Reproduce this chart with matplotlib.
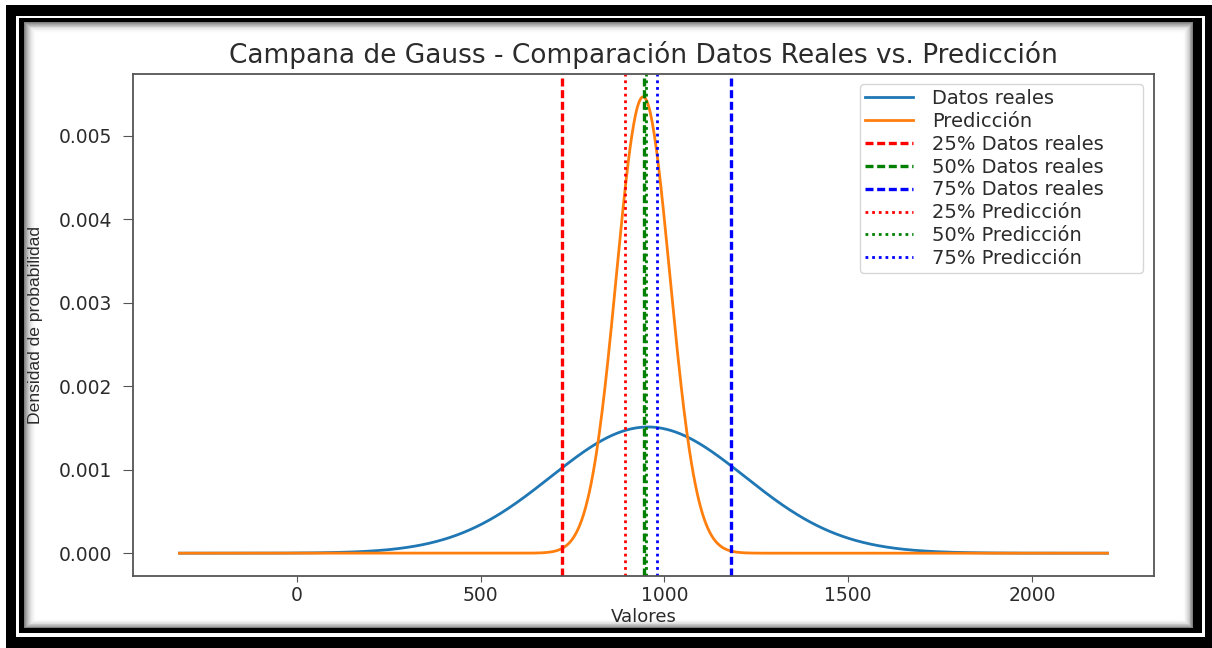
import numpy as np
import matplotlib
matplotlib.use("Agg")
import matplotlib.pyplot as plt
from matplotlib.patches import Rectangle

# Normal curves: real data vs. prediction
x_min, x_max = -320, 2206
real_mean, real_std = 955, 264
pred_mean, pred_std = 942, 73

# Quartiles
real_quartiles = [721, 945, 1181]
pred_quartiles = [892, 950, 981]
quartile_names = ["25%", "50%", "75%"]
quartile_colors = ["red", "green", "blue"]

title = "Campana de Gauss - Comparación Datos Reales vs. Predicción"
x_label = "Valores"
y_label = "Densidad de probabilidad"


def normal_pdf(x, mu, sd):
    return np.exp(-0.5 * ((x - mu) / sd) ** 2) / (sd * np.sqrt(2 * np.pi))


W, H = 1212, 648
fig = plt.figure(figsize=(W / 100, H / 100), dpi=100)
fig.patch.set_facecolor("white")

# Decorative double frame with inner shadow
bg = fig.add_axes([0, 0, 1, 1], zorder=0)
bg.set_xlim(0, W)
bg.set_ylim(H, 0)
bg.axis("off")


def box(x0, y0, x1, y1, color):
    bg.add_patch(Rectangle((x0, y0), x1 - x0, y1 - y0, facecolor=color,
                           edgecolor="none", linewidth=0))


box(6, 5, W, H, "black")
box(16, 16, 1205, 637, "white")
box(19, 18, 1202, 633, "black")
# inner shadow fading to white
n_steps = 13
inner = (24, 22, 1193, 628)
for i in range(n_steps + 1):
    t = i / n_steps
    g = 1.0 - 0.5 * (1 - t) ** 2.2
    box(inner[0] + i, inner[1] + i * 0.9, inner[2] - i * 0.85, inner[3] - i * 0.75,
        (g, g, g))

text_color = "#2b2b2b"
spine_color = "#555555"

ax = fig.add_axes([133 / W, 1 - 576 / H, (1154 - 133) / W, (576 - 74) / H], zorder=1)

x = np.linspace(x_min, x_max, 1000)
ax.plot(x, normal_pdf(x, real_mean, real_std), color="#1f77b4", lw=2.0,
        label="Datos reales")
ax.plot(x, normal_pdf(x, pred_mean, pred_std), color="#ff7f0e", lw=2.0,
        label="Predicción")

for name, val, col in zip(quartile_names, real_quartiles, quartile_colors):
    ax.axvline(val, color=col, lw=2.4, linestyle=(0, (2.4, 1.1)),
               label=f"{name} Datos reales")
for name, val, col in zip(quartile_names, pred_quartiles, quartile_colors):
    ax.axvline(val, color=col, lw=2.0, linestyle=(0, (1, 1.4)),
               label=f"{name} Predicción")

ax.set_title(title, fontsize=19, color=text_color, pad=8)
ax.set_xlabel(x_label, fontsize=13, color=text_color, labelpad=2)
ax.set_ylabel(y_label, fontsize=12.6, color=text_color, family="Liberation Sans")
ax.yaxis.set_label_coords(-0.088, 0.5)

ax.set_xticks([0, 500, 1000, 1500, 2000])
ax.set_yticks([0.000, 0.001, 0.002, 0.003, 0.004, 0.005])
ax.yaxis.set_major_formatter(matplotlib.ticker.FormatStrFormatter("%.3f"))
ax.tick_params(axis="both", labelsize=13.5, colors=text_color)
ax.tick_params(axis="y", length=7, pad=8, color=spine_color)
ax.tick_params(axis="x", length=4, color=spine_color)
for sp in ax.spines.values():
    sp.set_color(spine_color)
    sp.set_linewidth(1.3)

leg = ax.legend(loc="upper left", mode="expand",
                bbox_to_anchor=(0.712, 0.61, 0.277, 0.37), borderaxespad=0,
                fontsize=14, labelspacing=0.2, borderpad=0.25,
                handlelength=2.5, handletextpad=0.98)
for t in leg.get_texts():
    t.set_color(text_color)

fig.savefig("out.png", dpi=100)
